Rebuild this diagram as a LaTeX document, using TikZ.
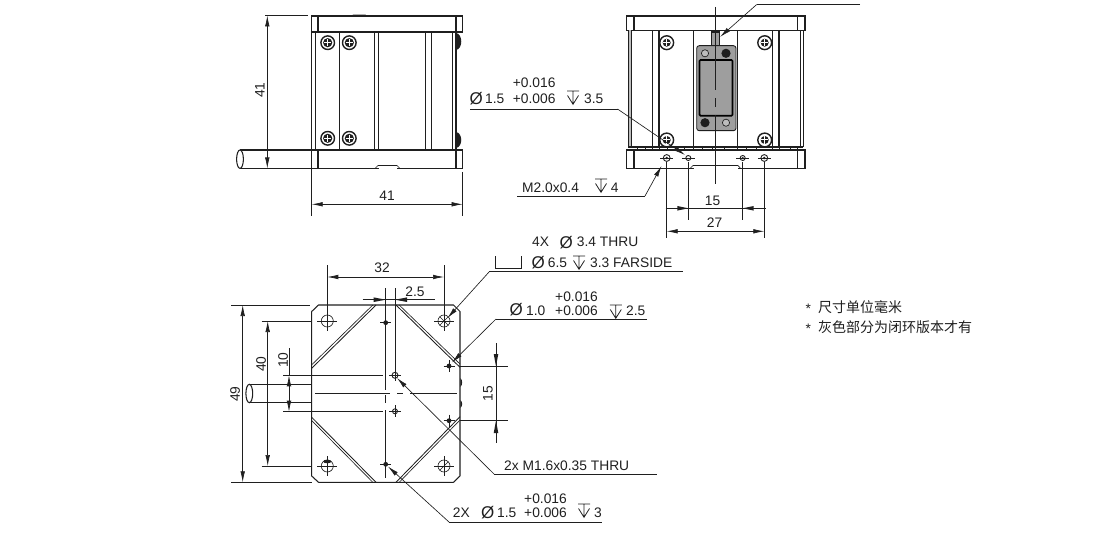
\documentclass[tikz,border=0pt]{standalone}
\usepackage{fontspec}
\setmainfont{Liberation Sans}
\newfontfamily\cjk{Noto Sans CJK SC}
\usetikzlibrary{arrows.meta}
\definecolor{inkc}{gray}{0.12}
\definecolor{greyc}{gray}{0.62}
\definecolor{greyd}{gray}{0.74}
\newcommand{\dia}{{\fontsize{17}{17}\selectfont Ø}}
\tikzset{
	part/.style={draw=inkc,line width=1.05pt},
	dim/.style={draw=inkc,line width=0.65pt},
	dimboth/.style={dim,{Latex[length=11pt,width=4.6pt]}-{Latex[length=11pt,width=4.6pt]}},
	lead/.style={dim,-{Latex[length=11pt,width=4.6pt]}},
	lbl/.style={anchor=base west,inner sep=0pt,yshift=-0.5pt,text=inkc,font=\fontsize{13.8}{13.8}\selectfont},
	mid/.style={anchor=center,inner sep=0pt,text=inkc,font=\fontsize{13.8}{13.8}\selectfont},
	note/.style={anchor=base west,inner sep=0pt,text=inkc,font=\cjk\fontsize{14}{14}\selectfont},
	depmark/.pic={\draw[dim,line width=0.8pt,line join=miter] (-6,0) -- (6,0) (0,0) -- (0,13.3) (-5.5,4.5) -- (0,13.3) -- (5.5,4.5);},
}
\begin{document}
\begin{tikzpicture}[x=1pt,y=-1pt]
\useasboundingbox (0,0) rectangle (1103,540);
% side view
\draw[part] (311.7,16) rectangle (462.6,32);
\draw[part] (311.7,150) rectangle (462.6,168.5);
\draw[part] (311.7,32) -- (311.7,150);
\foreach \x in {318,456} {
	\draw[part] (\x,16) -- (\x,32);
	\draw[part] (\x,150) -- (\x,168.5);
}
\foreach \x in {315.7,374.3,378.7,425,431.3,452.7} {
	\draw[dim] (\x,32) -- (\x,150);
}
\draw[line width=1.5pt,inkc] (339.3,32) -- (339.3,150);
\draw[line width=1.3pt,inkc] (456,32) -- (456,150);
\fill[inkc] (351.7,16) -- (353,14.6) -- (365.5,14.6) -- (366.7,16) -- cycle;
\fill[inkc] (456,33) .. controls (463,34) and (463,49) .. (456,50) -- cycle;
\fill[inkc] (456,132) .. controls (463,133) and (463,147) .. (456,148) -- cycle;
\draw[white,line width=1.6pt] (378.5,168.5) -- (396.5,168.5);
\draw[dim] (375,168.5) -- (378,165.5) -- (397,165.5) -- (400,168.5);
\foreach \x/\y in {327.7/42.7,349.3/42.7,327.7/138.3,349.3/138.3} {
	\draw[line width=1.4pt,inkc,fill=white] (\x,\y) circle (6.8);
	\fill[inkc] (\x,\y) circle (4.6);
	\draw[white,line width=1pt] (\x-3.6,\y) -- (\x+3.6,\y) (\x,\y-3.6) -- (\x,\y+3.6);
}
% cable, side view
\draw[part] (240,150) -- (311.7,150) (240,168.5) -- (311.7,168.5);
\draw[part,fill=white] (240,159.2) ellipse (3.4 and 9.2);
% front view
\draw[part,line width=1.3pt] (626.7,16) rectangle (805,30.5);
\draw[part,line width=1.2pt] (626.7,150) rectangle (805,168.5);
\foreach \x in {634,797.3} {
	\draw[part] (\x,16) -- (\x,30.5);
	\draw[part] (\x,150) -- (\x,168.5);
}
\fill[greyd] (628.6,30.5) rectangle (631.4,147);
\foreach \x in {628.3,803,631.7,652.3,693.3,737.7,772.7,800.7} {
	\draw[dim] (\x,30.5) -- (\x,147);
}
\draw[line width=1.1pt,inkc] (659,30.5) -- (659,147);
\draw[line width=1.1pt,inkc] (779,30.5) -- (779,147);
\draw[part] (628.3,147) -- (803,147);
\foreach \x in {637,645,652,659,667,675,684,693,702,712,724,737,746,756,772,779,790,797} {
	\draw[dim] (\x,147) -- (\x,150);
}
% connector
\draw[part,fill=greyc,line width=1.1pt] (711.7,32) rectangle (719.3,45.7);
\draw[part,fill=greyc,rounded corners=2.5pt,line width=0.9pt] (696.7,45.7) rectangle (736,130.7);
\draw[draw=black,fill=greyc,line width=1.7pt,rounded corners=1pt] (699.5,60) rectangle (732.5,115.7);
\draw[dim,fill=greyd] (705,53.3) circle (3.6);
\fill[inkc] (726,53.3) circle (4.6);
\fill[inkc] (705,122.7) circle (4.6);
\draw[dim,fill=greyd] (726,122.7) circle (3.6);
\foreach \x/\y in {666.7/42.7,764.7/42.7,666.7/140,764.7/140} {
	\draw[line width=1.4pt,inkc,fill=white] (\x,\y) circle (6.9);
	\fill[inkc] (\x,\y) circle (4);
	\draw[white,line width=1pt] (\x-3.6,\y) -- (\x+3.6,\y) (\x,\y-3.6) -- (\x,\y+3.6);
}
\foreach \x/\r in {666.7/3.4,688.3/2.5,742.7/2.5,764.3/3.4} {
	\draw[dim] (\x-6.5,158) -- (\x+6.5,158);
	\draw[part,line width=0.9pt] (\x,158) circle (\r);
}
\fill[inkc] (666.7,158) circle (1.4);
\fill[inkc] (764.3,158) circle (1.4);
\fill[inkc] (742.7,158) circle (1.1);
\draw[white,line width=1.6pt] (693.5,168.5) -- (737.5,168.5);
\draw[dim] (690,168.5) -- (693,165.5) -- (738,165.5) -- (740.7,168.5);
\draw[dim] (715.7,7) -- (715.7,90) (715.7,98) -- (715.7,107) (715.7,115) -- (715.7,184);
% bottom view
\draw[part,line join=bevel] (318.5,305) -- (453.5,305) -- (460,311.5) -- (460,476) -- (453.5,482.3) -- (318.5,482.3) -- (311.7,476) -- (311.7,311.5) -- cycle;
\fill[inkc] (460.3,378) .. controls (462.8,380) and (462.8,385) .. (460.3,387) -- cycle;
\fill[inkc] (460.3,400) .. controls (462.8,402) and (462.8,406) .. (460.3,408) -- cycle;
\foreach \ax/\ay/\bx/\by in {376/305/311.7/368.3, 396/305/460/367.3, 311.7/417.3/376/482.3, 396/482.3/460/416.7} {
	\draw[part,line width=0.85pt] (\ax,\ay) -- (\bx,\by);
}
\draw[dim] (372.8,305) -- (311.7,364.8);
\draw[dim] (399.2,305) -- (460,364);
\draw[dim] (311.7,420.5) -- (372.8,482.3);
\draw[dim] (399.2,482.3) -- (460,420);
\foreach \x/\y in {327.3/321,444/321,327.3/466,444/466} {
	\draw[dim] (\x,\y) circle (6);
	\draw[dim] (\x-10,\y) -- (\x+10,\y) (\x,\y-10) -- (\x,\y+10);
}
\draw[dim] (439.8,316.8) -- (448.2,325.2) (439.8,325.2) -- (448.2,316.8);
\draw[dim] (439.8,470.2) -- (448.2,461.8);
\fill[inkc] (327.3,461.5) ellipse (4 and 1.8);
\foreach \x/\y in {385.7/322.7,385.7/464.3,449/366,449/420.7} {
	\fill[inkc] (\x,\y) circle (2.4);
	\draw[dim] (\x-5.5,\y) -- (\x+5.5,\y) (\x,\y-6) -- (\x,\y+6);
}
\foreach \y/\r in {375.3/3,411.3/2.5} {
	\draw[part,line width=0.9pt] (395,\y) circle (\r);
	\draw[dim] (389,\y) -- (401,\y) (395,\y-6) -- (395,\y+6);
}
\draw[dim] (385.7,288) -- (385.7,390) (385.7,395) -- (385.7,403) (385.7,410) -- (385.7,478);
\draw[dim] (395,288) -- (395,372);
\draw[dim] (315,393.5) -- (390,393.5) (397,393.5) -- (403,393.5) (410,393.5) -- (457,393.5);
% cable, bottom view
\draw[part] (249.3,384.3) -- (311.7,384.3) (249.3,402.7) -- (311.7,402.7);
\draw[part,fill=white] (249.3,393.5) ellipse (3.4 and 9.2);
% dimensions, side view
\draw[dim] (265,15.5) -- (308,15.5) (265,168.5) -- (311,168.5);
\draw[dimboth] (267.3,15.5) -- (267.3,168.5);
\node[mid,rotate=90] (sideh) at (260,90) {41};
\draw[dim] (311.7,168) -- (311.7,216.5) (462.6,172) -- (462.6,216.5);
\draw[dimboth] (311.7,204.3) -- (462.6,204.3);
\node[mid] (sidew) at (387,196) {41};
% dimensions, front view
\draw[dim] (688.3,162) -- (688.3,220) (742.7,162) -- (742.7,220);
\draw[dim] (666.7,162) -- (666.7,238.5) (764.3,162) -- (764.3,238.5);
\draw[dim] (665.7,208.3) -- (765.7,208.3);
\fill[inkc] (688.3,208.3) -- (677.3,206) -- (677.3,210.6) -- cycle;
\fill[inkc] (742.7,208.3) -- (753.7,206) -- (753.7,210.6) -- cycle;
\node[mid] (fronta) at (712.5,200.5) {15};
\draw[dimboth] (666.7,231.3) -- (764.3,231.3);
\node[mid] (frontb) at (714.5,223) {27};
% dimensions, bottom view
\draw[dim] (327.3,265) -- (327.3,312) (444,265) -- (444,312);
\draw[dimboth] (327.3,277) -- (444,277);
\node[mid] (dthirty) at (382,268) {32};
\draw[dim] (362.7,299.7) -- (435,299.7);
\fill[inkc] (385.7,299.7) -- (373.7,297.4) -- (373.7,302) -- cycle;
\fill[inkc] (395,299.7) -- (407,297.4) -- (407,302) -- cycle;
\node[mid] (dtwofive) at (415,291.3) {2.5};
\draw[dim] (231,305) -- (310,305) (231,482.3) -- (312,482.3);
\draw[dimboth] (242.7,305) -- (242.7,482.3);
\node[mid,rotate=90] (dfortynine) at (235,394) {49};
\draw[dim] (261.7,321) -- (311,321) (261.7,466) -- (312,466);
\draw[dimboth] (267.7,321) -- (267.7,466);
\node[mid,rotate=90] (dforty) at (261,364) {40};
\draw[dim] (283,375.3) -- (383,375.3) (283,411.7) -- (383,411.7);
\draw[dim] (289,348) -- (289,375);
\draw[dimboth] (289,375.3) -- (289,411.7);
\node[mid,rotate=90] (dten) at (283,360) {10};
\draw[dim] (460,366.3) -- (507.7,366.3) (460,420.7) -- (507.7,420.7);
\draw[dim] (496,343) -- (496,443);
\fill[inkc] (496,366.3) -- (493.7,354) -- (498.3,354) -- cycle;
\fill[inkc] (496,420.7) -- (493.7,433) -- (498.3,433) -- cycle;
\node[mid,rotate=90] (dfifteen) at (488,393.5) {15};
% leader, top right
\coordinate (topend) at (860,4.5);
\coordinate (topknee) at (756.7,4.5);
\coordinate (toptip) at (720,37);
\draw[dim] (topend) -- (topknee);
\draw[lead] (topknee) -- (toptip);
% leader, pin hole front view
\coordinate (pinstart) at (470,109);
\coordinate (pinknee) at (617.5,109);
\coordinate (pintip) at (685,155);
\draw[dim] (pinstart) -- (pinknee);
\draw[lead] (pinknee) -- (pintip);
\node[lbl] (pinup) at (512.7,87.5) {+0.016};
\node[lbl] (pindia) at (469.5,104) {\dia};
\node[lbl] (pinval) at (485,103.2) {1.5};
\node[lbl] (pinlo) at (512.7,103.2) {+0.006};
\pic (pindep) at (573,91) {depmark};
\node[lbl] (pindepv) at (584,103.2) {3.5};
% leader, M2
\coordinate (mstart) at (517,196);
\coordinate (mknee) at (645,196);
\coordinate (mtip) at (661.5,166);
\draw[dim] (mstart) -- (mknee);
\draw[lead] (mknee) -- (mtip);
\node[lbl] (mtext) at (522,192.2) {M2.0x0.4};
\pic (mdep) at (601,179) {depmark};
\node[lbl] (mdepv) at (610.7,192.2) {4};
% leader, mounting holes
\coordinate (fourend) at (682.7,271.7);
\coordinate (fourknee) at (489.3,271.7);
\coordinate (fourtip) at (447.5,318);
\draw[dim] (fourend) -- (fourknee);
\draw[lead] (fourknee) -- (fourtip);
\node[lbl] (fourx) at (532,246.5) {4X};
\node[lbl] (fourdia) at (559.5,247.5) {\dia};
\node[lbl] (fourthru) at (576.7,246.5) {3.4 THRU};
\draw[dim] (495.7,256) -- (495.7,268.5) -- (521.7,268.5) -- (521.7,256);
\node[lbl] (farsdia) at (531.5,268) {\dia};
\node[lbl] (farsval) at (547.7,267.2) {6.5};
\pic (farsdep) at (579,256) {depmark};
\node[lbl] (farside) at (590,267.2) {3.3 FARSIDE};
% leader, pin hole bottom view
\coordinate (oneend) at (647,319);
\coordinate (oneknee) at (496,319);
\coordinate (onetip) at (452,362.5);
\draw[dim] (oneend) -- (oneknee);
\draw[lead] (oneknee) -- (onetip);
\node[lbl] (oneup) at (555,300.8) {+0.016};
\node[lbl] (onedia) at (509.5,315) {\dia};
\node[lbl] (oneval) at (526,314.7) {1.0};
\node[lbl] (onelo) at (555,314.7) {+0.006};
\pic (onedep) at (615.8,305) {depmark};
\node[lbl] (onedepv) at (626,314.7) {2.5};
% leader, M1.6
\coordinate (threadend) at (656.7,474.3);
\coordinate (threadknee) at (494.3,474.3);
\coordinate (threadtip) at (397,378);
\draw[dim] (threadend) -- (threadknee);
\draw[lead] (threadknee) -- (threadtip);
\node[lbl] (threadtxt) at (504,470.2) {2x M1.6x0.35 THRU};
% leader, dowel holes
\coordinate (dowelend) at (601.7,522.3);
\coordinate (dowelknee) at (449.3,522.3);
\coordinate (doweltip) at (388,466.5);
\draw[dim] (dowelend) -- (dowelknee);
\draw[lead] (dowelknee) -- (doweltip);
\node[lbl] (dowelx) at (452.7,517.3) {2X};
\node[lbl] (doweldia) at (481,518) {\dia};
\node[lbl] (dowelval) at (497,517.3) {1.5};
\node[lbl] (dowelup) at (524,503.2) {+0.016};
\node[lbl] (dowello) at (524,517.3) {+0.006};
\pic (doweldep) at (584,504) {depmark};
\node[lbl] (doweldepv) at (594,517.3) {3};
% notes
\node[lbl] (noteastone) at (805.3,312.5) {*};
\node[note] (noteone) at (818,312) {尺寸单位毫米};
\node[lbl] (noteasttwo) at (805.3,332.5) {*};
\node[note] (notetwo) at (818,332) {灰色部分为闭环版本才有};
\end{tikzpicture}
\end{document}
